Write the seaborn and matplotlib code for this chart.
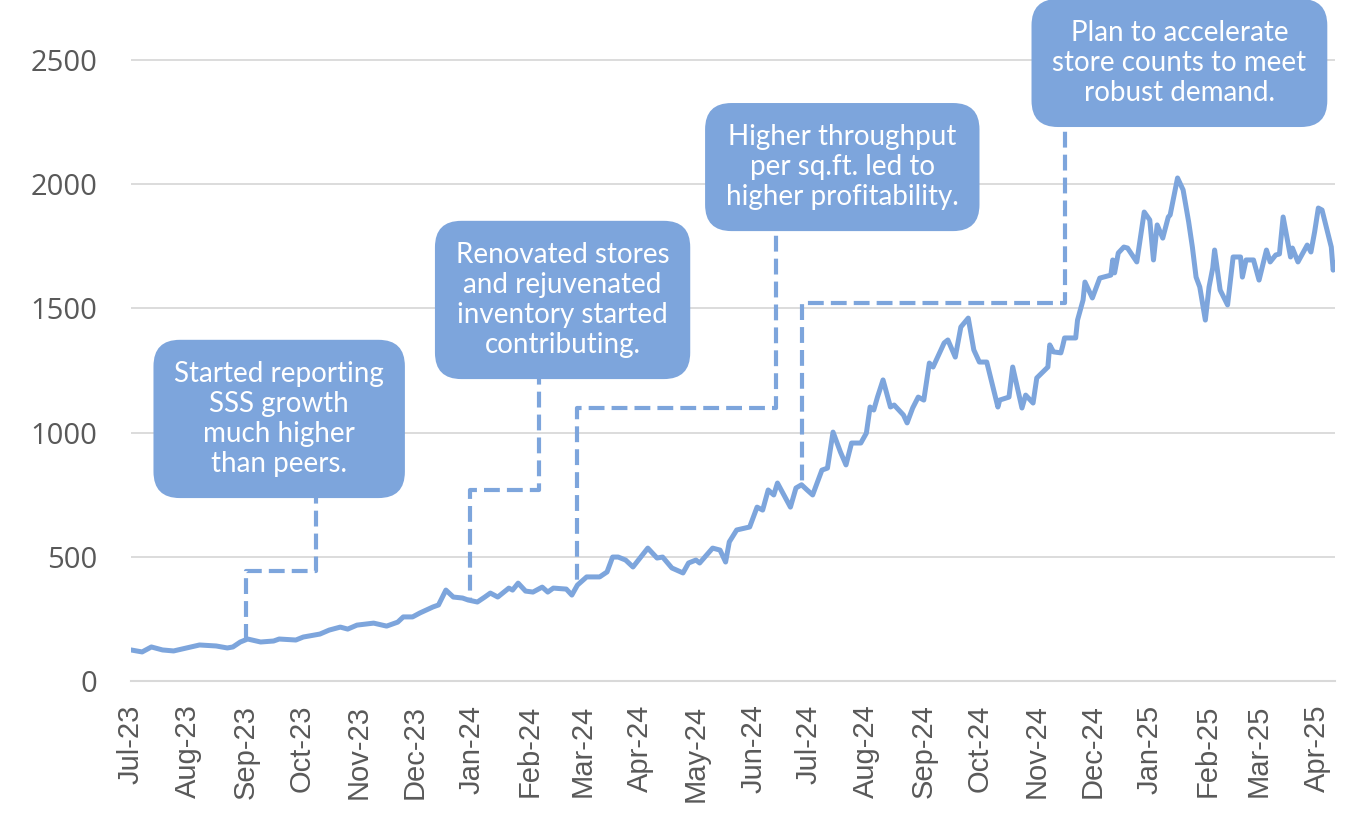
import pandas as pd
import numpy as np
import seaborn as sns
import matplotlib.dates as mdates
from matplotlib import pyplot as plt

# price series (irregular sample of the daily line)
dates = [
    "2023-07-01", "2023-07-07", "2023-07-12", "2023-07-18", "2023-07-24", "2023-07-31",
    "2023-08-07", "2023-08-16", "2023-08-22", "2023-08-25", "2023-08-29", "2023-09-02",
    "2023-09-09", "2023-09-16", "2023-09-19", "2023-09-28", "2023-10-02", "2023-10-11",
    "2023-10-16", "2023-10-22", "2023-10-26", "2023-10-31", "2023-11-09", "2023-11-16",
    "2023-11-22", "2023-11-25", "2023-11-30", "2023-12-04", "2023-12-11", "2023-12-14",
    "2023-12-18", "2023-12-22", "2023-12-27", "2023-12-30", "2024-01-04", "2024-01-08",
    "2024-01-11", "2024-01-15", "2024-01-21", "2024-01-23", "2024-01-26", "2024-01-30",
    "2024-02-03", "2024-02-08", "2024-02-11", "2024-02-14", "2024-02-21", "2024-02-24",
    "2024-02-27", "2024-03-03", "2024-03-10", "2024-03-14", "2024-03-17", "2024-03-20",
    "2024-03-24", "2024-03-28", "2024-04-05", "2024-04-10", "2024-04-13", "2024-04-18",
    "2024-04-24", "2024-04-27", "2024-05-01", "2024-05-03", "2024-05-10", "2024-05-14",
    "2024-05-17", "2024-05-19", "2024-05-23", "2024-05-30", "2024-06-03", "2024-06-06",
    "2024-06-09", "2024-06-12", "2024-06-14", "2024-06-21", "2024-06-24", "2024-06-27",
    "2024-06-30", "2024-07-03", "2024-07-08", "2024-07-11", "2024-07-14", "2024-07-18",
    "2024-07-21", "2024-07-24", "2024-07-29", "2024-08-01", "2024-08-03", "2024-08-05",
    "2024-08-07", "2024-08-10", "2024-08-14", "2024-08-16", "2024-08-21", "2024-08-23",
    "2024-08-26", "2024-08-29", "2024-09-01", "2024-09-04", "2024-09-06", "2024-09-12",
    "2024-09-14", "2024-09-18", "2024-09-21", "2024-09-25", "2024-09-28", "2024-10-01",
    "2024-10-05", "2024-10-07", "2024-10-11", "2024-10-12", "2024-10-17", "2024-10-19",
    "2024-10-24", "2024-10-26", "2024-10-30", "2024-11-01", "2024-11-07", "2024-11-08",
    "2024-11-10", "2024-11-14", "2024-11-15", "2024-11-16", "2024-11-22", "2024-11-23",
    "2024-11-26", "2024-11-27", "2024-12-01", "2024-12-05", "2024-12-11", "2024-12-12",
    "2024-12-13", "2024-12-15", "2024-12-18", "2024-12-20", "2024-12-25", "2024-12-29",
    "2025-01-01", "2025-01-03", "2025-01-05", "2025-01-08", "2025-01-11", "2025-01-12",
    "2025-01-16", "2025-01-19", "2025-01-22", "2025-01-24", "2025-01-26", "2025-01-28",
    "2025-01-31", "2025-02-02", "2025-02-04", "2025-02-05", "2025-02-08", "2025-02-12",
    "2025-02-15", "2025-02-19", "2025-02-20", "2025-02-22", "2025-02-26", "2025-03-01",
    "2025-03-05", "2025-03-07", "2025-03-10", "2025-03-12", "2025-03-14", "2025-03-18",
    "2025-03-19", "2025-03-22", "2025-03-27", "2025-03-29", "2025-03-31", "2025-04-02",
    "2025-04-04", "2025-04-06", "2025-04-09", "2025-04-10", "2025-04-11",
]
prices = [
    125, 117, 137, 125, 121, 133,
    145, 141, 133, 137, 157, 169,
    157, 161, 169, 165, 177, 189,
    205, 217, 209, 225, 233, 221,
    237, 258, 258, 274, 298, 306,
    366, 338, 334, 326, 318, 338,
    354, 338, 374, 366, 394, 362,
    358, 378, 358, 374, 370, 346,
    386, 419, 419, 439, 499, 499,
    487, 459, 535, 495, 499, 455,
    435, 475, 487, 475, 535, 527,
    479, 560, 608, 620, 700, 688,
    769, 749, 797, 700, 777, 790,
    769, 749, 849, 857, 1002, 922,
    870, 958, 958, 998, 1103, 1091,
    1143, 1212, 1103, 1111, 1071, 1039,
    1099, 1143, 1131, 1280, 1264, 1361,
    1373, 1304, 1425, 1461, 1333, 1284,
    1284, 1224, 1103, 1131, 1143, 1264,
    1099, 1151, 1119, 1220, 1264, 1353,
    1325, 1321, 1349, 1381, 1381, 1453,
    1534, 1606, 1542, 1622, 1634, 1695,
    1643, 1723, 1747, 1743, 1687, 1888,
    1856, 1695, 1836, 1783, 1868, 1876,
    2025, 1977, 1848, 1747, 1626, 1586,
    1453, 1586, 1663, 1735, 1574, 1514,
    1707, 1707, 1626, 1695, 1695, 1614,
    1735, 1687, 1715, 1719, 1868, 1707,
    1743, 1687, 1755, 1727, 1808, 1904,
    1896, 1836, 1747, 1654, 1683,
]

# callouts
ann_text = [
    "Started reporting\nSSS growth\nmuch higher\nthan peers.",
    "Renovated stores\nand rejuvenated\ninventory started\ncontributing.",
    "Higher throughput\nper sq.ft. led to\nhigher profitability.",
    "Plan to accelerate\nstore counts to meet\nrobust demand.",
]
ann_box_date = ["2023-09-19", "2024-02-19", "2024-07-19", "2025-01-17"]
ann_box_value = [1055, 1534, 2069, 2488]
ann_stem_date = ["2023-10-09", "2024-02-06", "2024-06-13", "2024-11-16"]
ann_elbow_value = [443, 769, 1099, 1522]
ann_point_date = ["2023-09-01", "2023-12-31", "2024-02-27", "2024-06-27"]

BLUE = "#7da5dc"
GRID = "#d9d9d9"
TXT = "#595959"

df = pd.DataFrame({"date": pd.to_datetime(dates), "price": prices})

sns.set_theme(style="white")
plt.rcParams["font.family"] = ["Liberation Sans", "DejaVu Sans"]

fig = plt.figure(figsize=(13.48, 8.19), dpi=100)
ax = fig.add_axes([131 / 1348, 1 - 681 / 819, (1335 - 131) / 1348, 681 / 819])

sns.lineplot(data=df, x="date", y="price", ax=ax, color=BLUE, linewidth=3.6, zorder=3)

# elbow connectors from box to the price line
xnum = mdates.date2num(df["date"])
for i in range(len(ann_text)):
    xs = pd.to_datetime(ann_stem_date[i])
    xp = pd.to_datetime(ann_point_date[i])
    yp = np.interp(mdates.date2num(xp), xnum, df["price"])
    ax.plot([xs, xs, xp, xp],
            [ann_box_value[i], ann_elbow_value[i], ann_elbow_value[i], yp],
            color=BLUE, linewidth=3, dashes=(3.8, 1.7), zorder=2,
            solid_joinstyle="miter")
    ax.text(pd.to_datetime(ann_box_date[i]), ann_box_value[i], ann_text[i],
            ha="center", va="center", color="white", fontsize=20,
            family=["Lato", "DejaVu Sans"], linespacing=1.2, zorder=5,
            bbox=dict(boxstyle="round,pad=0.75,rounding_size=0.95",
                      fc=BLUE, ec="none"), clip_on=False)

ax.set_ylim(0, 681 / 0.2484)
ax.set_yticks(range(0, 2501, 500))
ax.set_xlim(pd.Timestamp("2023-07-01"), pd.Timestamp("2025-04-11"))
ax.xaxis.set_major_locator(mdates.MonthLocator())
ax.xaxis.set_major_formatter(mdates.DateFormatter("%b-%y"))

ax.yaxis.grid(True, color=GRID, linewidth=1.3)
ax.set_axisbelow(True)
for side in ["top", "right", "left"]:
    ax.spines[side].set_visible(False)
ax.spines["bottom"].set_color(GRID)
ax.spines["bottom"].set_linewidth(1.5)

ax.tick_params(axis="x", which="major", direction="out", length=8, width=1.3,
               color=GRID, pad=9, labelsize=21, labelcolor=TXT, rotation=90)
ax.tick_params(axis="y", length=0, pad=24, labelsize=21, labelcolor=TXT)
for lab in ax.get_yticklabels():
    lab.set_family(["Open Sans", "DejaVu Sans"])
ax.set_xlabel("")
ax.set_ylabel("")

fig.savefig("out.png", dpi=100)
